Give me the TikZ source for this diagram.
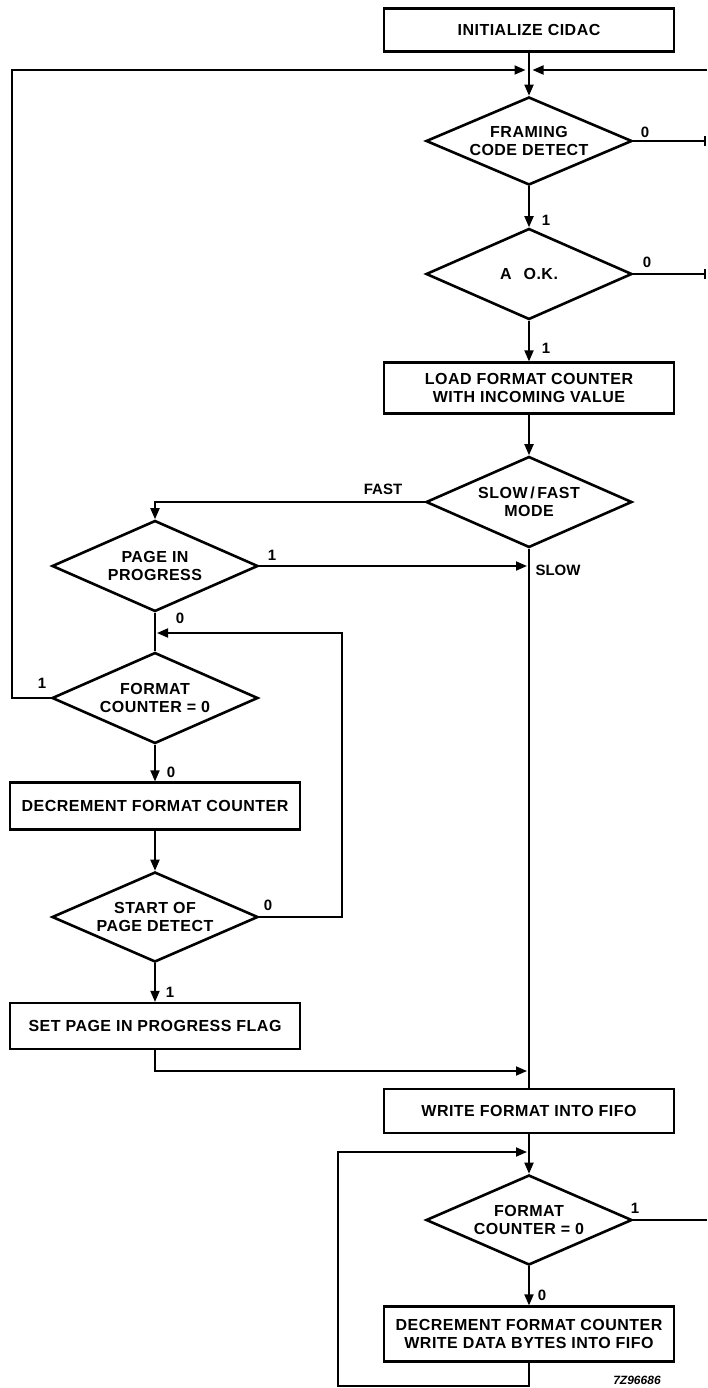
\documentclass[tikz,border=0pt]{standalone}
\usepackage{fontspec}
\setmainfont{Liberation Sans}
\usetikzlibrary{arrows.meta,shapes.geometric}
\begin{document}
\begin{tikzpicture}[x=1pt,y=-1pt,
  txt/.style={font=\bfseries\fontsize{16}{18}\selectfont\addfontfeatures{LetterSpace=3},align=center},
  box/.style={txt,draw,line width=2.2pt,rectangle,minimum width=290pt,inner sep=0pt},
  dec/.style={txt,draw,line width=2.6pt,diamond,aspect=2.25,inner sep=0pt,minimum width=206pt,minimum height=91pt},
  conn/.style={line width=1.8pt},
  arr/.style={conn,-{Triangle[length=11pt,width=9pt]}},
  lbl/.style={font=\bfseries\fontsize{15}{17}\selectfont,inner sep=0pt}
]
\useasboundingbox (0,0) rectangle (707,1388);
\clip (0,0) rectangle (707,1388);

% nodes
\node[box,minimum height=43pt] (init) at (529,30) {INITIALIZE CIDAC};
\node[dec,minimum height=88pt] (frm) at (529,141) {FRAMING\\CODE DETECT};
\node[dec] (aok) at (529,274) {A\hspace{12pt}O.K.};
\node[box,minimum height=51pt] (load) at (529,388) {LOAD FORMAT COUNTER\\WITH INCOMING VALUE};
\node[dec] (mode) at (529,502) {SLOW\,/\,FAST\\MODE};
\node[dec] (page) at (155,566) {PAGE IN\\PROGRESS};
\node[dec] (fc1) at (155,698) {FORMAT\\COUNTER = 0};
\node[box,minimum height=47pt] (dec1) at (155,806) {DECREMENT FORMAT COUNTER};
\node[dec,minimum height=90pt] (sop) at (155,917) {START OF\\PAGE DETECT};
\node[box,minimum height=46pt] (set) at (155,1026) {SET PAGE IN PROGRESS FLAG};
\node[box,minimum height=44pt] (wf) at (529,1111) {WRITE FORMAT INTO FIFO};
\node[dec,minimum height=90pt] (fc2) at (529,1220) {FORMAT\\COUNTER = 0};
\node[box,minimum height=55pt] (dec2) at (529,1334) {DECREMENT FORMAT COUNTER\\WRITE DATA BYTES INTO FIFO};

% helper coordinates
\coordinate (jL) at (525.5,70);
\coordinate (jR) at (532.5,70);
\coordinate (lt) at (12,70);
\coordinate (lb) at (12,698);
\coordinate (re) at (707,70);
\coordinate (t1) at (705,141);
\coordinate (t2) at (705,274);
\coordinate (fastc) at (155,502);
\coordinate (slowj) at (527,566);
\coordinate (rt) at (342,917);
\coordinate (rtop) at (342,633);
\coordinate (j0) at (157,633);
\coordinate (sb) at (155,1071);
\coordinate (sj) at (527,1071);
\coordinate (bb) at (529,1386);
\coordinate (bl) at (338,1386);
\coordinate (blt) at (338,1152);
\coordinate (bj) at (527,1152);
\coordinate (fe) at (707,1220);

% connectors
\draw[arr] (init.south) -- (frm.north);
\draw[arr] (fc1.west) -- (lb) -- (lt) -- (jL);
\draw[arr] (re) -- (jR);
\draw[conn] (frm.east) -- (t1);
\draw[conn] ([yshift=-5pt]t1) -- ([yshift=5pt]t1);
\draw[arr] (frm.south) -- (aok.north);
\draw[conn] (aok.east) -- (t2);
\draw[conn] ([yshift=-5pt]t2) -- ([yshift=5pt]t2);
\draw[arr] (aok.south) -- (load.north);
\draw[arr] (load.south) -- (mode.north);
\draw[arr] (mode.west) -- (fastc) -- (page.north);
\draw[arr] (page.east) -- (slowj);
\draw[conn] (mode.south) -- (wf.north);
\draw[conn] (page.south) -- (fc1.north);
\draw[arr] (sop.east) -- (rt) -- (rtop) -- (j0);
\draw[arr] (fc1.south) -- (dec1.north);
\draw[arr] (dec1.south) -- (sop.north);
\draw[arr] (sop.south) -- (set.north);
\draw[arr] (set.south) -- (sb) -- (sj);
\draw[arr] (wf.south) -- (fc2.north);
\draw[conn] (fc2.east) -- (fe);
\draw[arr] (fc2.south) -- (dec2.north);
\draw[arr] (dec2.south) -- (bb) -- (bl) -- (blt) -- (bj);

% labels
\node[lbl] (l1) at (645,132) {0};
\node[lbl] (l2) at (546,220) {1};
\node[lbl] (l3) at (647,262) {0};
\node[lbl] (l4) at (546,348) {1};
\node[lbl] (l5) at (383,489) {FAST};
\node[lbl] (l6) at (272,555) {1};
\node[lbl] (l7) at (558,570) {SLOW};
\node[lbl] (l8) at (180,618) {0};
\node[lbl] (l9) at (42,683) {1};
\node[lbl] (l10) at (171,772) {0};
\node[lbl] (l11) at (268,905) {0};
\node[lbl] (l12) at (170,992) {1};
\node[lbl] (l13) at (635,1208) {1};
\node[lbl] (l14) at (542,1295) {0};
\node[font=\bfseries\itshape\fontsize{12}{14}\selectfont,inner sep=0pt] (code) at (637,1380) {7Z96686};
\end{tikzpicture}
\end{document}
